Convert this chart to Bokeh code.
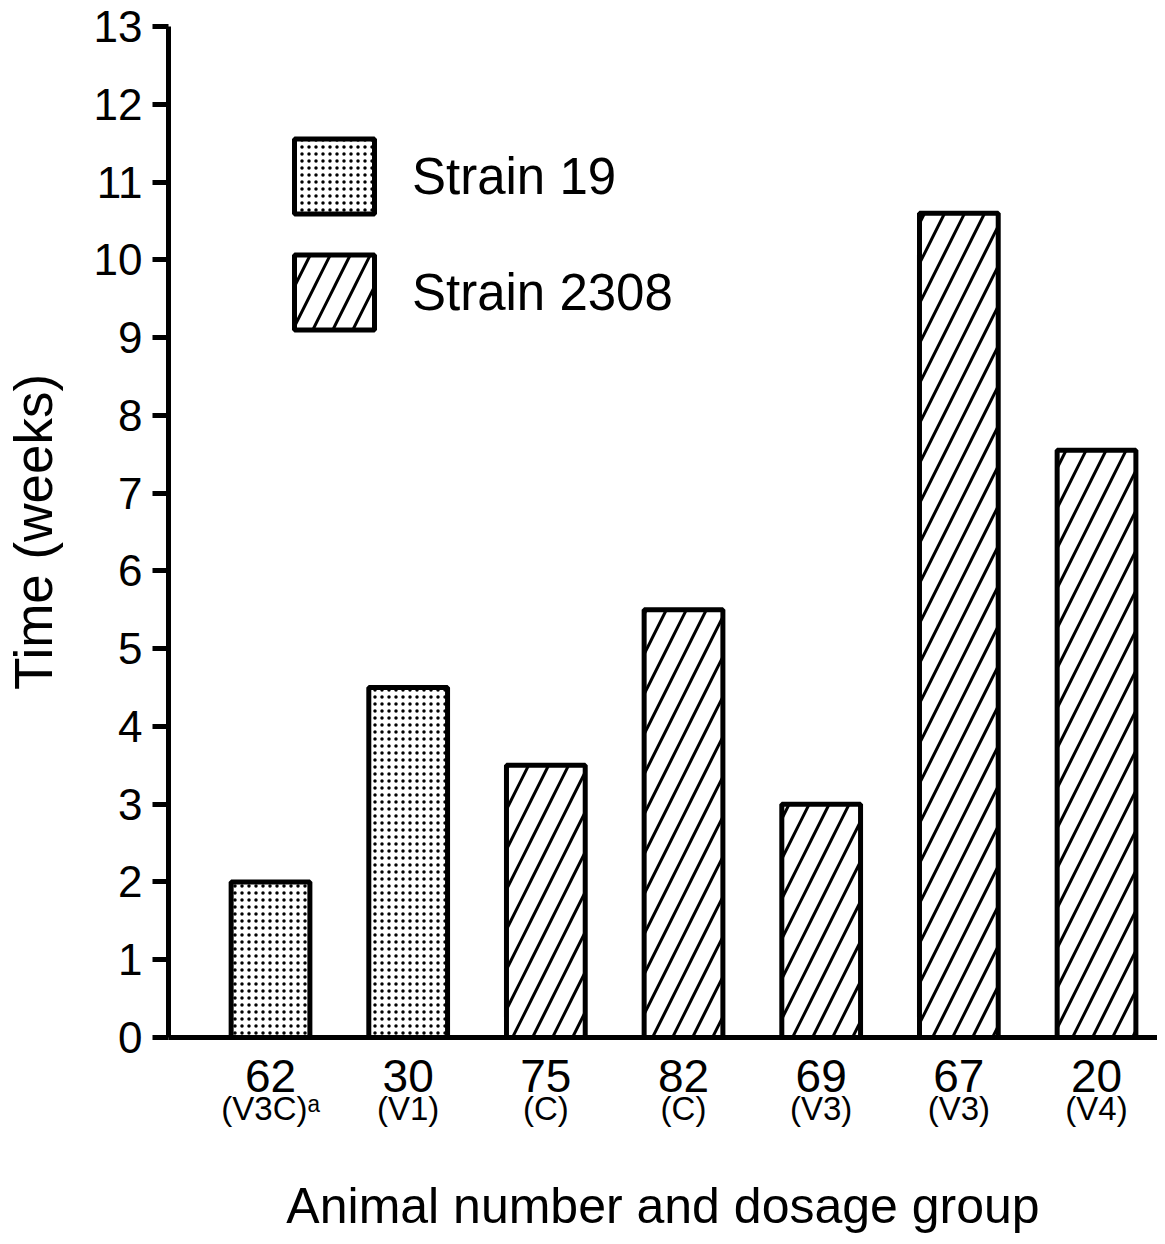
from bokeh.plotting import figure
from bokeh.models import (ColumnDataSource, LinearAxis, FixedTicker, Range1d,
                          Legend, LegendItem)
from bokeh.embed import file_html
from bokeh.resources import INLINE

# ---- data ----
animals = ["62", "30", "75", "82", "69", "67", "20"]
groups = ["(V3C)\u1d43", "(V1)", "(C)", "(C)", "(V3)", "(V3)", "(V4)"]
weeks = [2.0, 4.5, 3.5, 5.5, 3.0, 10.6, 7.55]
strains = ["Strain 19", "Strain 19", "Strain 2308", "Strain 2308",
           "Strain 2308", "Strain 2308", "Strain 2308"]
y_ticks = list(range(0, 14))

FONT = "Liberation Sans"
xpos = list(range(len(animals)))


def subset(strain):
    idx = [i for i, s in enumerate(strains) if s == strain]
    return ColumnDataSource(dict(x=[xpos[i] for i in idx],
                                 top=[weeks[i] for i in idx]))


p = figure(width=1157, height=1236,
           x_range=Range1d(-0.741, 6.443), y_range=Range1d(0, 13),
           output_backend="svg", toolbar_location=None,
           min_border_left=168, min_border_right=0,
           min_border_top=26, min_border_bottom=198)
p.outline_line_color = None
p.grid.visible = False
p.background_fill_color = "white"
p.border_fill_color = "white"

bar_w = 0.572
r19 = p.vbar(x="x", top="top", width=bar_w, source=subset("Strain 19"),
             fill_color="white", line_color="black", line_width=5,
             hatch_pattern="dot", hatch_scale=7, hatch_weight=6,
             hatch_color="black")
r2308 = p.vbar(x="x", top="top", width=bar_w, source=subset("Strain 2308"),
               fill_color="white", line_color="black", line_width=5,
               hatch_pattern="right_diagonal_line", hatch_scale=40,
               hatch_weight=3, hatch_color="black")

# y axis
ya = p.yaxis[0]
ya.ticker = FixedTicker(ticks=y_ticks)
ya.minor_tick_line_color = None
ya.major_tick_out = 16
ya.major_tick_in = 0
ya.major_tick_line_width = 5
ya.axis_line_width = 5
ya.major_label_standoff = 10
ya.major_label_text_font = FONT
ya.major_label_text_font_size = "44px"
ya.major_label_text_color = "black"
ya.axis_label = "Time (weeks)"
ya.axis_label_text_font = FONT
ya.axis_label_text_font_size = "53px"
ya.axis_label_text_font_style = "normal"
ya.axis_label_text_color = "black"
ya.axis_label_standoff = 28

# x axis: animal numbers
xa = p.xaxis[0]
xa.ticker = FixedTicker(ticks=xpos)
xa.major_label_overrides = {i: a for i, a in zip(xpos, animals)}
xa.minor_tick_line_color = None
xa.major_tick_line_color = None
xa.major_tick_out = 0
xa.major_tick_in = 0
xa.axis_line_width = 5
xa.major_label_standoff = 22
xa.major_label_text_font = FONT
xa.major_label_text_font_size = "46px"
xa.major_label_text_color = "black"

# second x axis: dosage groups + axis title
xa2 = LinearAxis(ticker=FixedTicker(ticks=xpos),
                 major_label_overrides={i: g for i, g in zip(xpos, groups)})
xa2.axis_line_color = None
xa2.major_tick_line_color = None
xa2.minor_tick_line_color = None
xa2.major_tick_out = 0
xa2.major_tick_in = 0
xa2.major_label_standoff = -5
xa2.major_label_text_font = FONT
xa2.major_label_text_font_size = "33px"
xa2.major_label_text_color = "black"
xa2.axis_label = "Animal number and dosage group"
xa2.axis_label_text_font = FONT
xa2.axis_label_text_font_size = "50px"
xa2.axis_label_text_font_style = "normal"
xa2.axis_label_text_color = "black"
xa2.axis_label_standoff = 48
p.add_layout(xa2, "below")

legend = Legend(items=[LegendItem(label="Strain 19", renderers=[r19]),
                       LegendItem(label="Strain 2308", renderers=[r2308])],
                location=(116, 698), glyph_width=100, glyph_height=94,
                label_standoff=28, spacing=22, padding=0, margin=0,
                border_line_color=None, background_fill_alpha=0,
                label_text_font=FONT, label_text_font_size="51px",
                label_text_color="black")
p.add_layout(legend)

open("out.html", "w").write(file_html(p, INLINE))
